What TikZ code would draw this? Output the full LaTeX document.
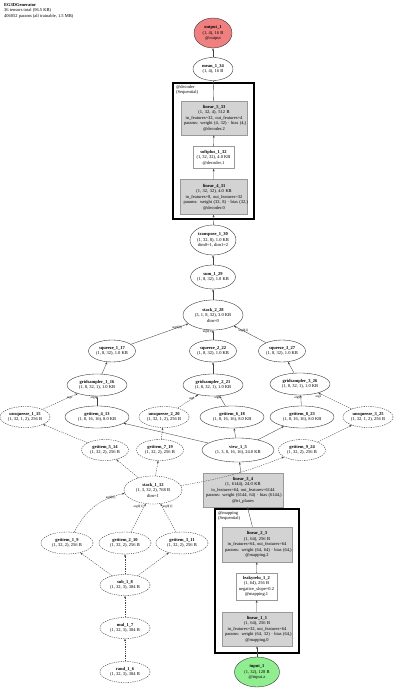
\documentclass[tikz,border=0pt]{standalone}
\usepackage{fontspec}
\setmainfont{Liberation Serif}
\usetikzlibrary{arrows.meta,shapes.geometric}
\definecolor{outred}{RGB}{240,128,128}
\definecolor{ingreen}{RGB}{144,238,144}
\definecolor{layergray}{RGB}{211,211,211}

\begin{document}
\begin{tikzpicture}[x=1pt,y=-1pt,>={Stealth[length=2.6pt,width=1.9pt]},
  every node/.style={font=\fontsize{4.5}{5.5}\selectfont,align=center},
  op/.style={ellipse,draw=black!85,line width=0.35pt,inner sep=0pt},
  opdash/.style={op,dash pattern=on 1.3pt off 1pt},
  layer/.style={rectangle,draw=black!40,fill=layergray,line width=0.5pt,inner sep=0pt},
  plainlayer/.style={layer,fill=white},
  cluster/.style={draw=black,line width=1.5pt},
  clusterlbl/.style={anchor=north west,align=left,inner sep=0pt},
  edge/.style={->,draw=black!75,line width=0.35pt},
  edgedash/.style={edge,dash pattern=on 1.3pt off 1pt},
  lbl/.style={font=\fontsize{3.3}{4}\selectfont,inner sep=0.4pt}]
\useasboundingbox (0,0) rectangle (400,690);
% ---------- title ----------
\node[anchor=north west,align=left,inner sep=0pt] (title) at (4,3)
  {\textbf{EG3DGenerator}\\36 tensors total (96.5 KB)\\406052 params (all trainable, 1.5 MB)};
% ---------- output side ----------
\node[op,fill=outred,minimum width=38pt,minimum height=30pt] (output1) at (213,33) {\textbf{output\_1}\\(1, 4), 16 B\\@output};
\node[op,minimum width=40pt,minimum height=23pt] (mean) at (213,69) {\textbf{mean\_1\_34}\\(1, 4), 16 B};
% ---------- @decoder ----------
\draw[cluster] (173,83) rectangle (254,219);
\node[clusterlbl] (declbl) at (176,85) {@decoder\\(Sequential)};
\node[layer,minimum width=66pt,minimum height=34pt,text width=60pt] (lin5) at (214,118)
  {\textbf{linear\_5\_33}\\(1, 32, 4), 512 B\\\mbox{in\_features=32, out\_features=4}\\\mbox{params: weight (4, 32) · bias (4,)}\\@decoder.2};
\node[plainlayer,minimum width=41pt,minimum height=22pt] (softplus) at (213.5,157.5)
  {\textbf{softplus\_1\_32}\\(1, 32, 32), 4.0 KB\\@decoder.1};
\node[layer,minimum width=67pt,minimum height=35pt,text width=61pt] (lin4) at (214,197)
  {\textbf{linear\_4\_31}\\(1, 32, 32), 4.0 KB\\\mbox{in\_features=8, out\_features=32}\\\mbox{params: weight (32, 8) · bias (32,)}\\@decoder.0};
% ---------- triplane readout ----------
\node[op,minimum width=46pt,minimum height=30pt] (transpose) at (213,240) {\textbf{transpose\_1\_30}\\(1, 32, 8), 1.0 KB\\dim0=1, dim1=2};
\node[op,minimum width=40pt,minimum height=24pt] (sum) at (213,277) {\textbf{sum\_1\_29}\\(1, 8, 32), 1.0 KB};
\node[op,minimum width=60pt,minimum height=30pt] (stack2) at (213,315) {\textbf{stack\_2\_28}\\(3, 1, 8, 32), 3.0 KB\\dim=0};
\node[op,minimum width=47pt,minimum height=22pt] (sq1) at (112,351) {\textbf{squeeze\_1\_17}\\(1, 8, 32), 1.0 KB};
\node[op,minimum width=47pt,minimum height=22pt] (sq2) at (213,351) {\textbf{squeeze\_2\_22}\\(1, 8, 32), 1.0 KB};
\node[op,minimum width=47pt,minimum height=22pt] (sq3) at (282,351) {\textbf{squeeze\_3\_27}\\(1, 8, 32), 1.0 KB};
\node[op,minimum width=60pt,minimum height=22pt] (gs1) at (97,385) {\textbf{gridsampler\_1\_16}\\(1, 8, 32, 1), 1.0 KB};
\node[op,minimum width=60pt,minimum height=22pt] (gs2) at (213,385) {\textbf{gridsampler\_2\_21}\\(1, 8, 32, 1), 1.0 KB};
\node[op,minimum width=60pt,minimum height=22pt] (gs3) at (300,384) {\textbf{gridsampler\_3\_26}\\(1, 8, 32, 1), 1.0 KB};
% grids (dashed) and planes (solid)
\node[opdash,minimum width=50pt,minimum height=21pt] (unsq1) at (25,417) {\textbf{unsqueeze\_1\_15}\\(1, 32, 1, 2), 256 B};
\node[op,minimum width=64pt,minimum height=22pt] (gi4) at (97,417) {\textbf{getitem\_4\_13}\\(1, 8, 16, 16), 8.0 KB};
\node[opdash,minimum width=50pt,minimum height=21pt] (unsq2) at (164,417) {\textbf{unsqueeze\_2\_20}\\(1, 32, 1, 2), 256 B};
\node[op,minimum width=64pt,minimum height=22pt] (gi6) at (232,417) {\textbf{getitem\_6\_18}\\(1, 8, 16, 16), 8.0 KB};
\node[op,minimum width=64pt,minimum height=22pt] (gi8) at (302,417) {\textbf{getitem\_8\_23}\\(1, 8, 16, 16), 8.0 KB};
\node[opdash,minimum width=50pt,minimum height=21pt] (unsq3) at (368,417) {\textbf{unsqueeze\_3\_25}\\(1, 32, 1, 2), 256 B};
\node[opdash,minimum width=47pt,minimum height=21pt] (gi5) at (105,450) {\textbf{getitem\_5\_14}\\(1, 32, 2), 256 B};
\node[opdash,minimum width=47pt,minimum height=21pt] (gi7) at (160,450) {\textbf{getitem\_7\_19}\\(1, 32, 2), 256 B};
\node[op,minimum width=72pt,minimum height=24pt] (view) at (238,450) {\textbf{view\_1\_5}\\(1, 3, 8, 16, 16), 24.0 KB};
\node[opdash,minimum width=47pt,minimum height=21pt] (gi9) at (302,450) {\textbf{getitem\_9\_24}\\(1, 32, 2), 256 B};
\node[opdash,minimum width=58pt,minimum height=28pt] (stack1) at (153,490) {\textbf{stack\_1\_12}\\(1, 3, 32, 2), 768 B\\dim=1};
\node[layer,minimum width=80pt,minimum height=34pt,text width=74pt] (lin3) at (243,490)
  {\textbf{linear\_3\_4}\\(1, 6144), 24.0 KB\\\mbox{in\_features=64, out\_features=6144}\\\mbox{params: weight (6144, 64) · bias (6144,)}\\@tri\_planes};
% ---------- @mapping ----------
\draw[cluster] (215,509) rectangle (299,653);
\node[clusterlbl] (maplbl) at (218,511) {@mapping\\(Sequential)};
\node[layer,minimum width=70pt,minimum height=35pt,text width=64pt] (lin2) at (257,544.5)
  {\textbf{linear\_2\_3}\\(1, 64), 256 B\\\mbox{in\_features=64, out\_features=64}\\\mbox{params: weight (64, 64) · bias (64,)}\\@mapping.2};
\node[plainlayer,minimum width=41pt,minimum height=27pt] (leaky) at (256.5,586.5)
  {\textbf{leakyrelu\_1\_2}\\(1, 64), 256 B\\negative\_slope=0.2\\@mapping.1};
\node[layer,minimum width=70pt,minimum height=34pt,text width=64pt] (lin1) at (257,629)
  {\textbf{linear\_1\_1}\\(1, 64), 256 B\\\mbox{in\_features=32, out\_features=64}\\\mbox{params: weight (64, 32) · bias (64,)}\\@mapping.0};
\node[op,fill=ingreen,minimum width=45pt,minimum height=30pt] (input1) at (257,672) {\textbf{input\_1}\\(1, 32), 128 B\\@input.z};
% ---------- sampling coordinates ----------
\node[opdash,minimum width=52pt,minimum height=22pt] (gi1) at (67,543) {\textbf{getitem\_1\_9}\\(1, 32, 2), 256 B};
\node[opdash,minimum width=52pt,minimum height=22pt] (gi2) at (125,543) {\textbf{getitem\_2\_10}\\(1, 32, 2), 256 B};
\node[opdash,minimum width=52pt,minimum height=22pt] (gi3) at (182,543) {\textbf{getitem\_3\_11}\\(1, 32, 2), 256 B};
\node[opdash,minimum width=50pt,minimum height=21pt] (sub) at (125,585) {\textbf{sub\_1\_8}\\(1, 32, 3), 384 B};
\node[opdash,minimum width=50pt,minimum height=21pt] (mul) at (125,628) {\textbf{mul\_1\_7}\\(1, 32, 3), 384 B};
\node[opdash,minimum width=50pt,minimum height=21pt] (rand) at (125,672) {\textbf{rand\_1\_6}\\(1, 32, 3), 384 B};
% ---------- edges ----------
\foreach \a/\b in {mean/output1,lin5/mean,softplus/lin5,lin4/softplus,transpose/lin4,sum/transpose,stack2/sum,
  gs1/sq1,gs2/sq2,gs3/sq3,view/gi4,view/gi6,view/gi8,lin3/view,lin2/lin3,leaky/lin2,lin1/leaky,input1/lin1}
  \draw[edge] (\a) -- (\b);
\foreach \a/\b in {gi5/unsq1,gi7/unsq2,gi9/unsq3,stack1/gi5,stack1/gi7,sub/gi1,sub/gi2,sub/gi3,mul/sub,rand/mul}
  \draw[edgedash] (\a) -- (\b);
\draw[edgedash] (stack1) to[bend right=6] (gi9);
% stack_2_28 inputs
\draw[edge] (sq1) -- node[lbl,pos=0.9,below left=0.3pt] {arg0[0]} (stack2);
\draw[edge] (sq2) -- node[lbl,pos=0.85,left] {arg0[1]} (stack2);
\draw[edge] (sq3) -- node[lbl,pos=0.88,below right=0.3pt] {arg0[2]} (stack2);
% gridsampler inputs
\foreach \g/\p/\u in {gs1/gi4/unsq1,gs2/gi6/unsq2,gs3/gi8/unsq3}{
  \draw[edge] (\p) -- node[lbl,pos=0.8,left] {arg0} (\g);
  \draw[edgedash] (\u) -- node[lbl,pos=0.88,below left=0.2pt] {arg1} (\g);
}
% stack_1_12 inputs
\draw[edgedash] (gi1) to[bend left=25] node[lbl,pos=0.88,below left=0.2pt] {arg0[0]} (stack1);
\draw[edgedash] (gi2) -- node[lbl,pos=0.88,left] {arg0[1]} (stack1);
\draw[edgedash] (gi3) -- node[lbl,pos=0.88,right] {arg0[2]} (stack1);
\end{tikzpicture}
\end{document}
